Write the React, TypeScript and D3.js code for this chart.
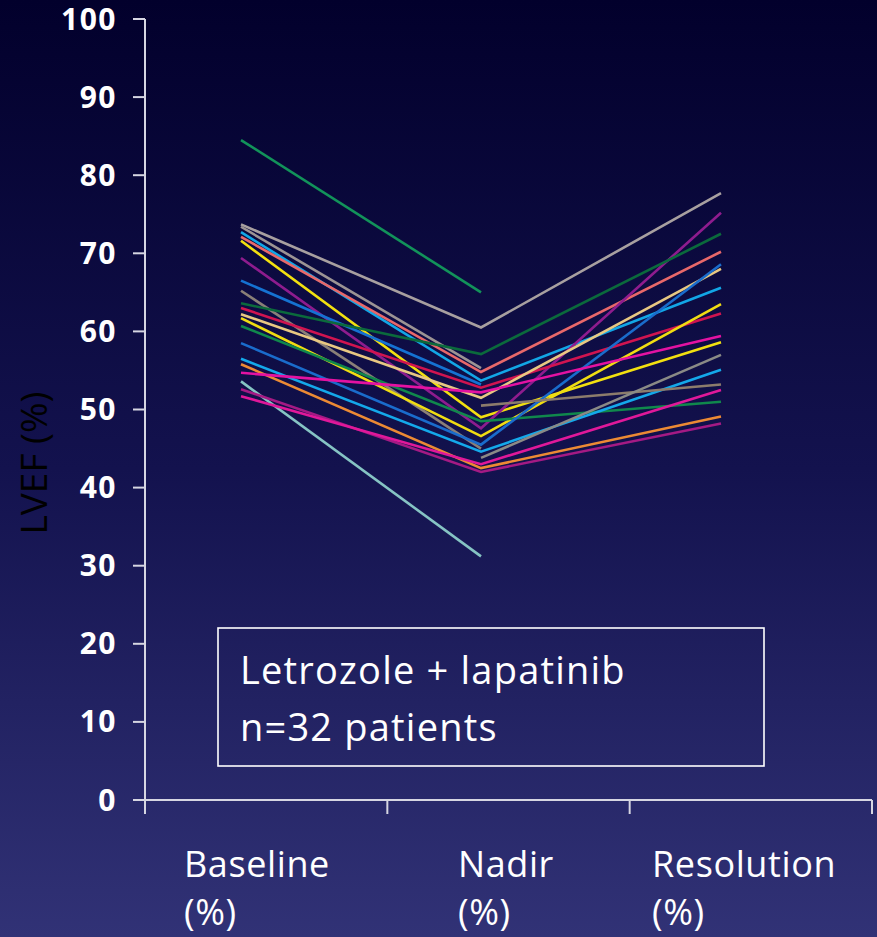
import React from "react";
import * as d3 from "d3";

const categories = ["Baseline", "Nadir", "Resolution"];
const yTicks = [0, 10, 20, 30, 40, 50, 60, 70, 80, 90, 100];

// LVEF (%) per patient at each time point (null = not shown)
const baseline: (number | null)[] = [84.5, 73.7, 73.4, 72.7, 72.1, 71.6, 69.4, 66.5, 65.2, 63.6, 63.0, 62.2, 61.7, 60.7, 58.5, 56.5, 55.8, 54.7, 53.6, 52.6, 51.7, null, null];
const nadir: (number | null)[] = [65.0, 60.5, 55.3, 53.7, 54.8, 49.0, 47.6, 53.2, 45.0, 57.1, 52.8, 51.5, 46.6, 48.5, 45.5, 44.6, 42.5, 52.2, 31.2, 42.0, 43.0, 50.5, 43.8];
const resolution: (number | null)[] = [null, 77.7, null, 65.6, 70.2, 58.6, 75.2, null, null, 72.5, 62.3, 68.0, 63.5, 51.0, 68.6, 55.1, 49.1, 59.4, null, 48.2, 52.5, 53.2, 57.0];

const palette = ["#12935a", "#a8a0a0", "#9c9494", "#12a6e6", "#e8686a", "#f2e010", "#8e1c8e", "#1572d2", "#8a8078", "#0b6a3c", "#d01450", "#e8c882", "#f0dc12", "#10884c", "#1a6ccc", "#14a8ea", "#ec8a34", "#e412a2", "#86c4c4", "#a41a84", "#e0189a", "#8c7c6c", "#8a8a86"];

const W = 877;
const H = 937;

export default function App() {
  const y = d3.scaleLinear().domain([0, 100]).range([800, 19]);
  const xPts = d3.scalePoint<string>().domain(categories).range([241, 721]);
  const xBounds = d3.scaleLinear().domain([0, 3]).range([145, 872]);

  const series = baseline.map((_, i) => [baseline[i], nadir[i], resolution[i]]);
  const line = d3
    .line<number | null>()
    .defined((d) => d != null)
    .x((_, i) => xPts(categories[i]) as number)
    .y((d) => y(d as number));

  const axisColor = "#d6d6e2";
  const labelX = [184, 458, 652];

  return (
    <svg width={W} height={H} style={{ position: "absolute", left: 0, top: 0, display: "block" }}>
      <defs>
        <linearGradient id="bg" x1="0" y1="0" x2="0" y2="1">
          <stop offset="0" stopColor="#02002c" />
          <stop offset="0.5" stopColor="#13124e" />
          <stop offset="1" stopColor="#313276" />
        </linearGradient>
      </defs>
      <rect x={0} y={0} width={W} height={H} fill="url(#bg)" />

      {/* y axis */}
      <line x1={145} x2={145} y1={y(100)} y2={813} stroke={axisColor} strokeWidth={2} />
      {yTicks.map((t) => (
        <g key={t}>
          <line x1={133} x2={145} y1={y(t)} y2={y(t)} stroke={axisColor} strokeWidth={2} />
          <text
            x={117}
            y={y(t)}
            dy="0.35em"
            textAnchor="end"
            fill="#ffffff"
            fontFamily="'Open Sans', sans-serif"
            fontWeight={700}
            fontSize={30}
            letterSpacing={1.5}
          >
            {t}
          </text>
        </g>
      ))}

      {/* x axis */}
      <line x1={133} x2={xBounds(3)} y1={y(0)} y2={y(0)} stroke={axisColor} strokeWidth={2} />
      {[0, 1, 2, 3].map((b) => (
        <line key={b} x1={xBounds(b)} x2={xBounds(b)} y1={y(0)} y2={814} stroke={axisColor} strokeWidth={2} />
      ))}

      {/* patient lines */}
      {series.map((s, i) => (
        <path key={i} d={line(s) || ""} fill="none" stroke={palette[i]} strokeWidth={2.6} strokeLinejoin="miter" />
      ))}

      {/* category labels */}
      {categories.map((c, i) => (
        <text
          key={c}
          x={labelX[i]}
          y={877}
          fill="#ffffff"
          fontFamily="'Open Sans', sans-serif"
          fontSize={36}
          letterSpacing={0.6}
        >
          <tspan x={labelX[i]}>{c}</tspan>
          <tspan x={labelX[i]} dy={48}>(%)</tspan>
        </text>
      ))}

      {/* y title */}
      <text
        transform="translate(47,463) rotate(-90)"
        textAnchor="middle"
        fill="#000000"
        fontFamily="'Open Sans', sans-serif"
        fontSize={37}
      >
        LVEF (%)
      </text>

      {/* annotation box */}
      <rect x={218} y={628} width={546} height={138} fill="none" stroke="#ffffff" strokeWidth={1.6} />
      <text x={240} y={684} fill="#ffffff" fontFamily="'Open Sans', sans-serif" fontSize={38} letterSpacing={1.2}>
        Letrozole + lapatinib
      </text>
      <text x={240} y={741} fill="#ffffff" fontFamily="'Open Sans', sans-serif" fontSize={38} letterSpacing={1.2}>
        n=32 patients
      </text>
    </svg>
  );
}
